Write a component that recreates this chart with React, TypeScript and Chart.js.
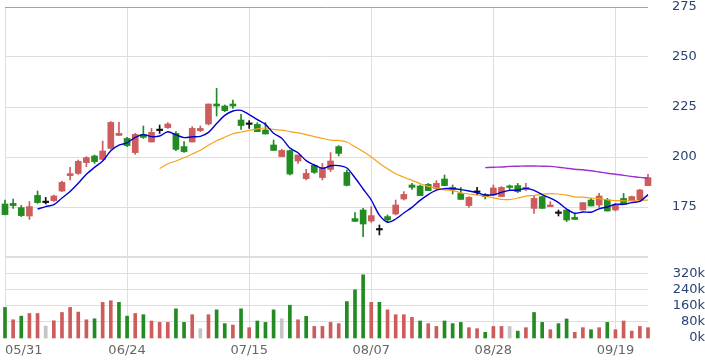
import React, { useEffect, useRef } from 'react';
import { Chart, registerables } from 'chart.js';

Chart.register(...registerables);

// ---- data ----
const tickLabels = ['05/31', '06/24', '07/15', '08/07', '08/28', '09/19'];
const tickEvery = 15;

const opens = [
  176.5, 176.8, 174.7, 170.5, 180.8, 177.2, 178.2, 183, 190.7, 191.8,
  197.2, 200.5, 198.8, 204.3, 210.8, 209.3, 202.2, 211.3, 207.5, 213.2,
  214.7, 211.8, 205.2, 207.5, 213.2, 216.5, 226.5, 225.5, 226.5, 218.5,
  216.3, 216.3, 213.5, 206, 200.2, 203.2, 198, 189.2, 195.8, 189.7,
  193.8, 205.2, 192.3, 169.2, 173.5, 168, 163.5, 170.2, 171.5, 179,
  186, 185.5, 186.3, 184.3, 189, 184.8, 181.8, 175.7, 182.3, 181.3,
  181, 180.2, 185.5, 185.7, 183.8, 174.3, 180.2, 175.2, 171.8, 173.5,
  169.8, 173.5, 178.5, 176, 178.5, 173.5, 179.3, 178.2, 178.5, 185.7,
];
const highs = [
  178.5, 179, 175.8, 177.7, 183, 179.8, 181, 188, 194.8, 198.5,
  200.2, 201, 208, 217.7, 217.3, 209.8, 211.8, 215.5, 214.3, 216,
  217.2, 212.7, 207.7, 215.2, 215.5, 226.5, 234.3, 226, 228.5, 221.3,
  218.2, 217.2, 217.2, 208.5, 203.8, 203.5, 201, 193.8, 196.3, 196.8,
  202.2, 205.7, 193.5, 172.2, 174.3, 175.2, 166, 171, 178.5, 182.7,
  186.8, 186, 186.8, 188.2, 191, 186, 184.8, 180.2, 184.8, 181.8,
  186, 185.2, 186, 186.8, 186.8, 180.5, 180.5, 177.7, 173.5, 173.8,
  171.8, 177.2, 179.3, 181.8, 179.3, 176.8, 181.8, 180.5, 183.8, 191.3,
];
const lows = [
  171, 174.3, 170.2, 168.8, 176.8, 176.5, 177.8, 182.7, 188.5, 191.3,
  195.2, 196.8, 198.5, 204, 210.8, 205.2, 201.3, 209.3, 207.5, 211.8,
  214.3, 203.2, 202.3, 207.5, 212.7, 216, 220.5, 222.7, 224.3, 213.8,
  214.3, 212.7, 211.5, 203.2, 200.2, 191, 196.8, 188.5, 191.8, 188.5,
  192.7, 200.5, 185.5, 167.8, 160.2, 167.3, 161, 167.7, 171, 178.5,
  183.8, 180.7, 183.2, 183.8, 185.7, 181.5, 178.8, 174.8, 181, 179,
  180.7, 180.2, 183.2, 182.2, 183.2, 171.8, 174.3, 175.2, 170.5, 167.7,
  168.8, 173.5, 175.5, 174.8, 173, 173, 176.5, 178.2, 178.2, 185.7,
];
const closes = [
  171.2, 175.7, 170.7, 175.2, 177.2, 177.2, 180.5, 187.3, 191.7, 197.8,
  199.7, 197.7, 203, 217.3, 211.8, 205.7, 211.3, 209.8, 212.3, 213.2,
  216.5, 203.8, 202.7, 214.3, 214.3, 226.5, 225.5, 223.2, 225.5, 215.7,
  216.3, 212.7, 211.5, 203.3, 203.3, 191.5, 201, 191.8, 192.3, 194.8,
  198, 201.8, 185.8, 167.8, 166.5, 170.7, 163.5, 168.5, 176, 181.3,
  184.8, 180.7, 183.2, 186.8, 185.7, 184, 178.8, 179.8, 182.3, 180.2,
  184.5, 184.8, 184.8, 182.7, 184.8, 179.3, 174.3, 176, 171.8, 168.5,
  168.8, 177.2, 175.5, 180.5, 173, 176, 176.5, 180.2, 183.5, 189.7,
];
// volume in thousands
const volumesK = [
  151, 90, 108, 121, 121, 59, 85, 126, 151, 128,
  90, 95, 176, 184, 176, 108, 121, 115, 84, 77,
  77, 144, 77, 115, 46, 115, 139, 71, 64, 144,
  51, 84, 77, 139, 95, 162, 90, 107, 57, 57,
  77, 71, 180, 238, 312, 176, 176, 139, 115, 115,
  102, 84, 71, 57, 84, 71, 77, 51, 46, 28,
  57, 57, 57, 34, 51, 126, 77, 41, 71, 94,
  28, 51, 41, 51, 77, 41, 84, 34, 57, 51,
];
// moving averages
const ma5Start = 4;
const ma5 = [
  174.0, 175.2, 176.2, 179.5, 182.8, 186.9, 191.4, 194.8, 198.0, 203.1,
  205.9, 207.1, 209.8, 211.2, 210.2, 210.5, 212.6, 211.1, 209.7, 210.1,
  210.3, 212.3, 216.7, 220.8, 223.0, 223.3, 221.2, 218.7, 216.3, 211.9,
  209.4, 204.5, 202.1, 198.2, 196.0, 194.3, 195.6, 195.7, 194.5, 189.6,
  184.0, 178.5, 170.9, 167.4, 169.0, 172.0, 174.8, 178.3, 181.2, 183.4,
  184.2, 184.1, 183.7, 183.0, 182.1, 181.0, 181.1, 182.3, 183.3, 183.4,
  184.3, 183.3, 181.2, 179.4, 177.2, 174.0, 171.9, 172.5, 172.4, 174.1,
  175.0, 176.4, 176.3, 177.2, 177.8, 181.2,
];
const ma20Start = 19;
const ma20 = [
  194.3, 196.6, 198.0, 199.6, 201.5, 203.4, 205.9, 208.1, 209.9, 211.6,
  212.5, 213.3, 214.1, 214.5, 213.8, 213.4, 212.7, 212.1, 211.2, 210.2,
  209.3, 208.4, 208.3, 207.5, 205.1, 202.7, 200.0, 196.9, 194.1, 191.6,
  189.9, 188.3, 186.7, 185.3, 184.5, 183.6, 183.3, 182.1, 181.5, 181.0,
  180.3, 179.6, 178.8, 178.7, 179.5, 180.4, 180.8, 181.4, 181.7, 181.5,
  180.9, 180.1, 179.9, 179.5, 179.2, 178.6, 178.2, 178.1, 178.1, 178.1,
  178.6,
];
const ma60Start = 59;
const ma60 = [
  194.7, 194.9, 195.0, 195.3, 195.4, 195.5, 195.5, 195.4, 195.3, 194.9,
  194.4, 193.9, 193.6, 193.1, 192.5, 191.9, 191.4, 190.8, 190.3, 189.8,
  189.4,
];

const priceTicks = { min: 150, max: 275, step: 25 };
const volTicks = { min: 0, max: 400000, step: 80000 };

// ---- styles ----
const UP = '#cd5c5c';
const DOWN = '#228b22';
const FLAT = '#111111';
const VOL_FLAT = '#c4c4c4';
const GRID = '#dedede';
const TOP_LINE = '#bf9f72';
const NONE = 'rgba(0,0,0,0)';
const FONT = 'DejaVu Sans';

function pad(values: number[], start: number): (number | null)[] {
  const out: (number | null)[] = [];
  for (let i = 0; i < start; i++) out.push(null);
  return out.concat(values);
}

const fitY = (s: any) => {
  s.width = 57;
  s.paddingTop = 0;
  s.paddingBottom = 0;
};

const align = (p: number, w: number) => Math.round(p - w / 2) + w / 2;

// draws the grid from the chart's own scales, beneath the datasets
const gridPlugin = {
  id: 'stockGrid',
  beforeDatasetsDraw(chart: any) {
    const { ctx, chartArea, scales } = chart;
    const line = (x1: number, y1: number, x2: number, y2: number, color: string, w: number) => {
      ctx.save();
      ctx.strokeStyle = color;
      ctx.lineWidth = w;
      ctx.beginPath();
      ctx.moveTo(x1, y1);
      ctx.lineTo(x2, y2);
      ctx.stroke();
      ctx.restore();
    };
    const x = scales.x;
    for (let i = 0; i < x.ticks.length; i += tickEvery) {
      const px = align(x.getPixelForTick(i), 1);
      line(px, chartArea.top, px, chartArea.bottom, GRID, 1);
    }
    const y = scales.y;
    for (let v = priceTicks.min; v <= priceTicks.max; v += priceTicks.step) {
      const w = v === priceTicks.min ? 2 : 1;
      const py = align(y.getPixelForValue(v), w);
      line(chartArea.left, py, chartArea.right, py, v === priceTicks.max ? TOP_LINE : GRID, w);
    }
    const yv = scales.yv;
    for (let v = volTicks.min + volTicks.step; v < volTicks.max; v += volTicks.step) {
      const py = align(yv.getPixelForValue(v), 1);
      line(chartArea.left, py, chartArea.right, py, GRID, 1);
    }
  },
};

export default function App() {
  const ref = useRef<HTMLCanvasElement | null>(null);

  useEffect(() => {
    if (!ref.current) return;
    const labels = closes.map((_, i) => String(i));
    const candleColors = closes.map((c, i) =>
      c > opens[i] ? UP : c < opens[i] ? DOWN : FLAT
    );
    const volColors = closes.map((c, i) => {
      if (i === 0) return candleColors[0] === UP ? UP : DOWN;
      const p = closes[i - 1];
      return c > p ? UP : c < p ? DOWN : VOL_FLAT;
    });

    const chart = new Chart(ref.current, {
      type: 'bar',
      plugins: [gridPlugin],
      data: {
        labels,
        datasets: [
          {
            type: 'line',
            label: 'MA5',
            data: pad(ma5, ma5Start),
            borderColor: '#0000cd',
            borderWidth: 1.4,
            pointRadius: 0,
            tension: 0.3,
            fill: false,
            yAxisID: 'y',
            order: 0,
          },
          {
            type: 'line',
            label: 'MA20',
            data: pad(ma20, ma20Start),
            borderColor: '#f7a21c',
            borderWidth: 1.2,
            pointRadius: 0,
            tension: 0.3,
            fill: false,
            yAxisID: 'y',
            order: 0,
          },
          {
            type: 'line',
            label: 'MA60',
            data: pad(ma60, ma60Start),
            borderColor: '#9b30d0',
            borderWidth: 1.4,
            pointRadius: 0,
            tension: 0.3,
            fill: false,
            yAxisID: 'y',
            order: 0,
          },
          {
            type: 'bar',
            label: 'body',
            data: opens.map((o, i) => [o, closes[i]]) as any,
            backgroundColor: candleColors,
            barThickness: 6,
            minBarLength: 1.5,
            grouped: false,
            clip: false,
            yAxisID: 'y',
            order: 1,
          } as any,
          {
            type: 'bar',
            label: 'wick',
            data: lows.map((l, i) => [l, highs[i]]) as any,
            backgroundColor: candleColors,
            barThickness: 1,
            grouped: false,
            clip: false,
            yAxisID: 'y',
            order: 2,
          } as any,
          {
            type: 'bar',
            label: 'volume',
            data: volumesK.map((v) => v * 1000),
            backgroundColor: volColors,
            barThickness: 3,
            grouped: false,
            clip: false,
            yAxisID: 'yv',
            order: 3,
          } as any,
        ],
      },
      options: {
        responsive: false,
        animation: false,
        layout: { padding: { left: 5, top: 7, right: 0, bottom: 0 } },
        plugins: { legend: { display: false }, tooltip: { enabled: false } },
        scales: {
          x: {
            type: 'category',
            offset: false,
            border: { display: false },
            grid: { display: false, offset: false, drawTicks: false },
            ticks: {
              autoSkip: false,
              maxTicksLimit: 500,
              maxRotation: 0,
              minRotation: 0,
              align: 'inner',
              padding: 5,
              color: '#666666',
              font: { family: FONT, size: 13 },
              callback: (_v: any, i: number) =>
                i % tickEvery === 0 && tickLabels[i / tickEvery] ? tickLabels[i / tickEvery] : '',
            },
            afterFit: (s: any) => {
              s.height = 24;
            },
          },
          y: {
            type: 'linear',
            position: 'right',
            stack: 'main',
            stackWeight: 250,
            min: priceTicks.min,
            max: priceTicks.max,
            border: { display: false },
            grid: { display: false, drawTicks: false },
            ticks: {
              autoSkip: false,
              maxTicksLimit: 50,
              stepSize: priceTicks.step,
              padding: 24,
              crossAlign: 'near',
              color: '#2b4275',
              font: { family: FONT, size: 13 },
              callback: (v: any) => (v === priceTicks.min ? '' : String(v)),
            },
            afterFit: fitY,
          },
          yv: {
            type: 'linear',
            position: 'right',
            stack: 'main',
            stackWeight: 81,
            min: volTicks.min,
            max: volTicks.max,
            border: { display: false },
            grid: { display: false, drawTicks: false },
            ticks: {
              autoSkip: false,
              maxTicksLimit: 50,
              stepSize: volTicks.step,
              padding: 15,
              crossAlign: 'far',
              color: '#2b4275',
              font: { family: FONT, size: 13 },
              callback: (v: any) => (v === volTicks.max ? '' : v / 1000 + 'k'),
            },
            afterFit: fitY,
          },
        },
      } as any,
    });
    return () => chart.destroy();
  }, []);

  return (
    <div style={{ position: 'absolute', left: 0, top: 0, width: 705, height: 362 }}>
      <canvas ref={ref} width={705} height={362} style={{ display: 'block' }} />
    </div>
  );
}
